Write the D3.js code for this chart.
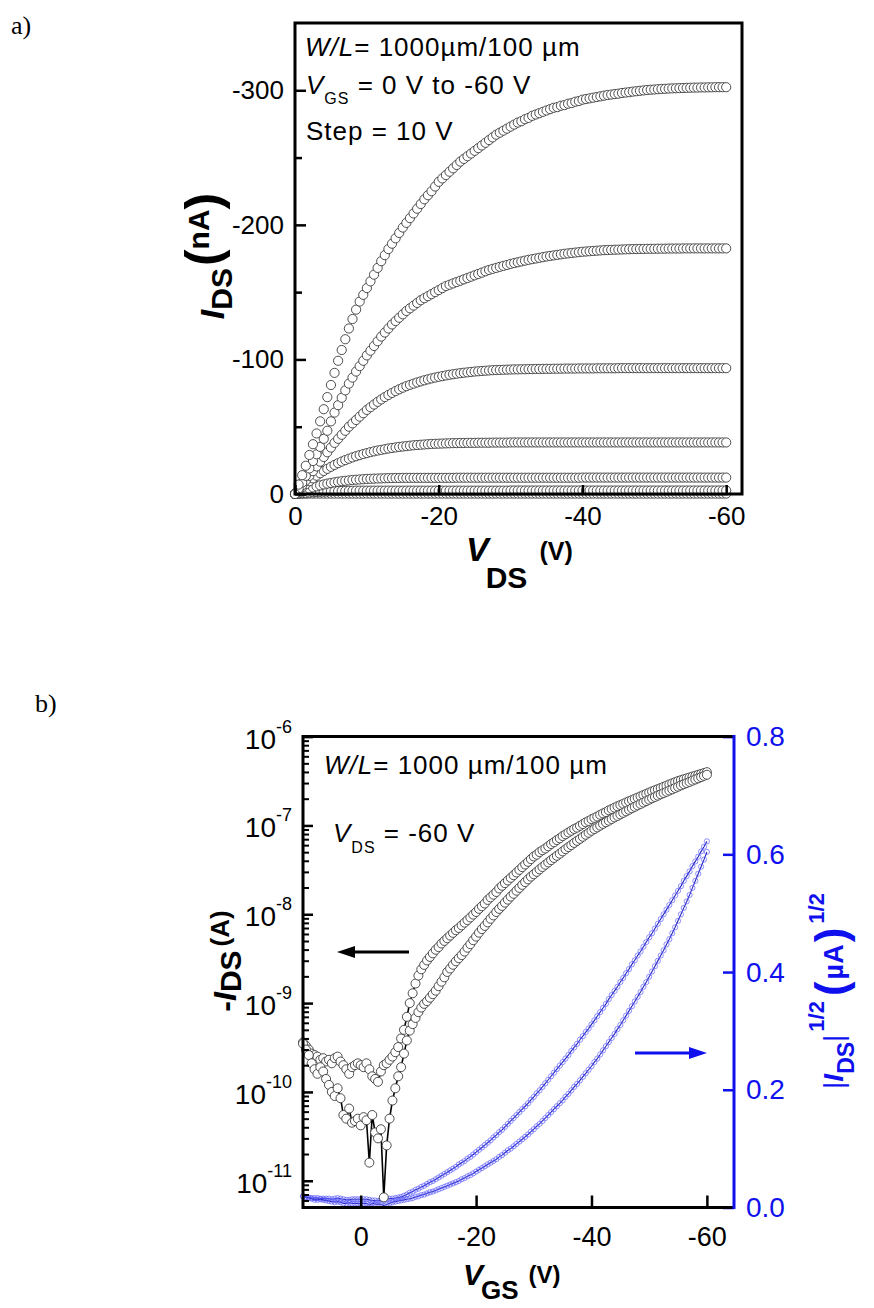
<!DOCTYPE html>
<html>
<head>
<meta charset="utf-8">
<script src="https://cdn.jsdelivr.net/npm/d3@7"></script>
<style>
 body { margin:0; background:#fff; }
 svg text { font-family:"Liberation Sans", Arial, sans-serif; }
</style>
</head>
<body>
<script>
// ---------- a) output curves, -I_DS magnitude in nA, V_DS 0 -> -60 V in 0.5 V steps ----------
var vdsSweep = d3.range(0, -60.25, -0.5);

var idsVgs0 = [
 0,0.1,0.2,0.2,0.3,0.3,0.3,0.3,0.3,0.3,
 0.3,0.3,0.3,0.3,0.3,0.3,0.3,0.3,0.3,0.3,
 0.3,0.3,0.3,0.3,0.3,0.3,0.3,0.3,0.3,0.3,
 0.3,0.3,0.3,0.3,0.3,0.3,0.3,0.3,0.3,0.3,
 0.3,0.3,0.3,0.3,0.3,0.3,0.3,0.3,0.3,0.3,
 0.3,0.3,0.3,0.3,0.3,0.3,0.3,0.3,0.3,0.3,
 0.3,0.3,0.3,0.3,0.3,0.3,0.3,0.3,0.3,0.3,
 0.3,0.3,0.3,0.3,0.3,0.3,0.3,0.3,0.3,0.3,
 0.3,0.3,0.3,0.3,0.3,0.3,0.3,0.3,0.3,0.3,
 0.3,0.3,0.3,0.3,0.3,0.3,0.3,0.3,0.3,0.3,
 0.3,0.3,0.3,0.3,0.3,0.3,0.3,0.3,0.3,0.3,
 0.3,0.3,0.3,0.3,0.3,0.3,0.3,0.3,0.3,0.3,
 0.3];
var idsVgs10 = [
 0,0.3,0.6,0.9,1.1,1.3,1.5,1.7,1.8,1.9,
 2,2.1,2.2,2.3,2.3,2.4,2.4,2.5,2.5,2.5,
 2.5,2.5,2.5,2.5,2.5,2.5,2.5,2.5,2.5,2.5,
 2.5,2.5,2.5,2.5,2.5,2.5,2.5,2.5,2.5,2.5,
 2.5,2.5,2.5,2.5,2.5,2.5,2.5,2.5,2.5,2.5,
 2.5,2.5,2.5,2.5,2.5,2.5,2.5,2.5,2.5,2.5,
 2.6,2.6,2.6,2.6,2.6,2.6,2.6,2.6,2.6,2.6,
 2.6,2.6,2.6,2.6,2.6,2.6,2.6,2.6,2.6,2.6,
 2.6,2.6,2.6,2.6,2.6,2.6,2.6,2.6,2.6,2.6,
 2.6,2.6,2.6,2.6,2.6,2.6,2.6,2.6,2.6,2.6,
 2.6,2.6,2.6,2.6,2.6,2.6,2.6,2.6,2.6,2.6,
 2.6,2.6,2.6,2.6,2.6,2.6,2.6,2.6,2.6,2.6,
 2.6];
var idsVgs20 = [
 0,1,2,3,4,4.9,5.7,6.4,7.1,7.7,
 8.2,8.7,9.1,9.5,9.8,10.1,10.4,10.6,10.8,11,
 11.2,11.3,11.4,11.5,11.6,11.7,11.8,11.8,11.9,11.9,
 12,12,12,12,12,12,12,12,12,12,
 12,12,12,12,12,12.1,12.1,12.1,12.1,12.1,
 12.1,12.1,12.1,12.1,12.1,12.1,12.1,12.1,12.1,12.1,
 12.1,12.1,12.1,12.1,12.1,12.1,12.1,12.1,12.1,12.1,
 12.1,12.1,12.1,12.1,12.1,12.1,12.1,12.1,12.1,12.1,
 12.2,12.2,12.2,12.2,12.2,12.2,12.2,12.2,12.2,12.2,
 12.2,12.2,12.2,12.2,12.2,12.2,12.2,12.2,12.2,12.2,
 12.2,12.2,12.2,12.2,12.2,12.2,12.2,12.2,12.2,12.2,
 12.2,12.2,12.2,12.2,12.2,12.2,12.2,12.2,12.2,12.2,
 12.2];
var idsVgs30 = [
 0,2.5,5,7.3,9.5,11.6,13.6,15.4,17.1,18.7,
 20.2,21.6,22.9,24.1,25.2,26.2,27.2,28.1,28.9,29.7,
 30.4,31.1,31.7,32.3,32.8,33.3,33.8,34.2,34.6,35,
 35.3,35.6,35.9,36.2,36.4,36.6,36.8,37,37.2,37.3,
 37.4,37.5,37.6,37.7,37.8,37.8,37.9,37.9,38,38,
 38,38.1,38.1,38.1,38.1,38.2,38.2,38.2,38.2,38.2,
 38.3,38.3,38.3,38.3,38.3,38.3,38.3,38.3,38.3,38.3,
 38.3,38.3,38.3,38.3,38.3,38.3,38.3,38.3,38.3,38.3,
 38.3,38.3,38.3,38.3,38.3,38.3,38.3,38.3,38.3,38.3,
 38.3,38.3,38.3,38.3,38.3,38.3,38.3,38.3,38.3,38.3,
 38.3,38.3,38.3,38.3,38.3,38.3,38.3,38.3,38.3,38.3,
 38.3,38.3,38.3,38.3,38.3,38.3,38.3,38.3,38.3,38.3,
 38.3];
var idsVgs40 = [
 0,3,6.5,10,13.5,17,20.5,24,27.5,31,
 34.5,38,41,44,47,50,52.5,55,57.5,60,
 62.5,64.5,66.5,68.5,70.3,72,73.6,75.1,76.5,77.8,
 79,80.1,81.1,82,82.9,83.7,84.5,85.2,85.9,86.5,
 87.1,87.6,88.1,88.6,89,89.4,89.8,90.1,90.4,90.7,
 91,91.2,91.4,91.6,91.8,92,92.1,92.2,92.3,92.4,
 92.5,92.6,92.6,92.7,92.7,92.8,92.8,92.9,92.9,93,
 93,93,93.1,93.1,93.1,93.2,93.2,93.2,93.2,93.3,
 93.3,93.3,93.3,93.3,93.4,93.4,93.4,93.4,93.4,93.4,
 93.5,93.5,93.5,93.5,93.5,93.5,93.5,93.5,93.5,93.5,
 93.5,93.5,93.5,93.5,93.5,93.5,93.5,93.5,93.5,93.5,
 93.5,93.5,93.5,93.5,93.5,93.5,93.5,93.5,93.5,93.5,
 93.5];
var idsVgs50 = [
 0,4,8.5,13.5,19,24.5,29.5,35,41,47,
 54,60.5,66,71.5,77,82,86.5,91,95,99,
 103,106.5,110,113.5,117,120,123,126,128.5,131,
 133.5,136,138,140,142,144,145.5,147,148.5,150,
 151.5,153,154.5,155.5,156.5,157.5,158.5,159.5,160.5,161.5,
 162.5,163.5,164.5,165.5,166.5,167.3,168,168.8,169.5,170.2,
 171,171.6,172.2,172.8,173.4,174,174.5,175,175.5,176,
 176.5,176.9,177.3,177.7,178.1,178.5,178.8,179.1,179.4,179.7,
 180,180.2,180.4,180.6,180.8,181,181.2,181.3,181.4,181.5,
 181.6,181.7,181.8,181.9,182,182,182.1,182.1,182.2,182.2,
 182.2,182.3,182.3,182.3,182.4,182.4,182.4,182.4,182.5,182.5,
 182.5,182.5,182.5,182.5,182.5,182.5,182.5,182.5,182.5,182.5,
 182.5];
var idsVgs60 = [
 0,7,14,21,29,37,45,54,63,72,
 81,90,99,107,115,123,130,137,143,148,
 153,158,163,168,173,177.5,182,186,190,194,
 198,201.5,205,208.5,212,215.5,219,222,225,228.5,
 232,234.5,237,239.5,242,244.5,247,249,251,253,
 255,257,259,261,263,265,267,268.5,270,271.5,
 273,274.5,276,277,278.5,279.5,281,282,283,284,
 285,286,287,287.5,288.5,289,290,290.5,291.5,292,
 293,293.5,294,294.5,295,295.5,296,296.5,296.8,297.2,
 297.5,298,298.3,298.6,299,299.3,299.6,299.9,300.2,300.4,
 300.6,300.8,301,301.1,301.3,301.4,301.5,301.6,301.7,301.8,
 301.9,302,302,302.1,302.1,302.2,302.2,302.3,302.3,302.3,
 302.3];

var topYTicks = [0, -100, -200, -300];
var topYMinor = [-50, -150, -250];
var topXTicks = [0, -20, -40, -60];

// ---------- b) transfer curve, V_GS +10 -> -60 V in 0.5 V steps ----------
var vgsSweep = d3.range(10, -60.25, -0.5);

// -I_DS in nA, upper branch
var idsUpper = [
 0.36,0.33,0.30,0.27,0.26,0.25,0.23,0.24,0.22,0.23,
 0.21,0.24,0.25,0.22,0.20,0.18,0.16,0.19,0.20,0.21,
 0.20,0.19,0.21,0.18,0.15,0.14,0.13,0.17,0.20,0.21,
 0.23,0.25,0.28,0.32,0.40,0.50,0.70,1.0,1.29,1.66,
 2.04,2.40,2.69,3.02,3.31,3.63,3.98,4.27,4.68,5.01,
 5.37,5.75,6.17,6.61,7.0,7.5,8.04,8.6,9.2,9.9,
 10.6,11.5,12.3,13.2,14.5,15.5,16.6,17.8,19.5,20.9,
 22.4,24.0,25.7,27.5,29.5,31.6,33.9,36.3,38.9,41.7,
 44.7,46.8,50.1,52.5,55.0,58.2,61.7,64.6,68.4,71.6,
 75.9,79.4,83.2,87.1,91.2,94.4,98.9,103.5,108.4,112.2,
 117.5,121.6,125.9,131.8,136.5,141.3,147.9,153.1,158.5,164.1,
 169.8,175.4,181.1,187.1,193.2,199.5,206.1,212.8,219.8,227,
 234.4,241.5,248.9,256.4,264.2,272.3,280.5,289.1,297.8,306.9,
 316.2,323.6,331.1,338.8,346.7,354.8,363.1,371.5,380.2,389,
 398];
// -I_DS in nA, lower branch
var idsLower = [
 0.35,0.30,0.26,0.21,0.18,0.16,0.19,0.17,0.14,0.12,
 0.10,0.09,0.11,0.085,0.055,0.05,0.065,0.045,0.047,0.05,
 0.042,0.052,0.048,0.016,0.055,0.035,0.03,0.038,0.0065,0.025,
 0.05,0.08,0.11,0.15,0.19,0.27,0.38,0.49,0.58,0.68,
 0.79,0.89,0.98,1.05,1.15,1.26,1.38,1.55,1.74,1.95,
 2.24,2.45,2.7,2.95,3.2,3.47,3.8,4.2,4.6,5.1,
 5.6,6.2,6.8,7.4,8.1,8.9,9.7,10.6,11.5,12.4,
 13.5,14.6,15.8,17.0,18.4,19.8,21.4,23.0,24.7,26.5,
 28.2,30.0,32.0,34.0,36.1,38.3,40.6,43.0,45.5,48.0,
 51,54,57,60,63.5,67,70.5,74.5,78.5,82.5,
 87,91,95,99.5,104,108.5,113,118,123,128,
 133,138.5,144,150,156,162,168,174.5,181,188,
 195,202,209,216.5,224,231.5,239,247,255,264,
 273,282,291,300,309,319,329,339,350,361,
 372];
// |I_DS|^1/2 in uA^1/2
var sqrtUpper = [
 0.019,0.018,0.017,0.016,0.016,0.016,0.015,0.015,0.015,0.015,
 0.014,0.015,0.016,0.015,0.014,0.013,0.013,0.014,0.014,0.014,
 0.014,0.014,0.014,0.013,0.012,0.012,0.011,0.013,0.014,0.014,
 0.015,0.015,0.016,0.017,0.018,0.020,0.022,0.025,0.027,0.030,
 0.032,0.035,0.037,0.040,0.043,0.045,0.048,0.051,0.054,0.057,
 0.060,0.063,0.066,0.069,0.073,0.076,0.079,0.083,0.086,0.090,
 0.094,0.098,0.102,0.106,0.110,0.114,0.119,0.123,0.128,0.132,
 0.137,0.142,0.147,0.152,0.157,0.162,0.167,0.172,0.177,0.183,
 0.188,0.194,0.199,0.205,0.211,0.217,0.223,0.229,0.235,0.241,
 0.247,0.253,0.259,0.266,0.272,0.278,0.285,0.291,0.298,0.304,
 0.311,0.318,0.325,0.332,0.339,0.346,0.354,0.361,0.368,0.375,
 0.383,0.390,0.398,0.405,0.413,0.420,0.428,0.435,0.443,0.451,
 0.459,0.466,0.474,0.482,0.490,0.498,0.506,0.514,0.522,0.530,
 0.538,0.546,0.555,0.563,0.571,0.580,0.588,0.596,0.605,0.613,
 0.622];
var sqrtLower = [
 0.019,0.017,0.016,0.015,0.013,0.013,0.014,0.013,0.012,0.011,
 0.010,0.009,0.010,0.009,0.007,0.007,0.008,0.007,0.007,0.007,
 0.006,0.007,0.007,0.004,0.007,0.006,0.005,0.006,0.003,0.005,
 0.007,0.009,0.010,0.011,0.012,0.013,0.014,0.015,0.016,0.018,
 0.019,0.021,0.022,0.024,0.026,0.027,0.029,0.031,0.033,0.035,
 0.037,0.039,0.041,0.043,0.045,0.048,0.050,0.053,0.055,0.058,
 0.061,0.064,0.067,0.070,0.073,0.076,0.079,0.082,0.086,0.089,
 0.093,0.097,0.100,0.104,0.108,0.112,0.116,0.120,0.124,0.129,
 0.133,0.138,0.142,0.147,0.152,0.157,0.162,0.167,0.172,0.177,
 0.182,0.188,0.193,0.199,0.205,0.210,0.216,0.222,0.228,0.234,
 0.240,0.247,0.253,0.260,0.267,0.274,0.281,0.288,0.295,0.303,
 0.310,0.318,0.326,0.334,0.342,0.350,0.358,0.366,0.375,0.383,
 0.392,0.401,0.410,0.419,0.428,0.437,0.447,0.456,0.466,0.476,
 0.487,0.498,0.509,0.520,0.531,0.543,0.555,0.567,0.579,0.591,
 0.604];

var botXTicks = [0, -20, -40, -60];
var logMajor = [0.01, 0.1, 1, 10, 100, 1000];   // nA = 1e-11 ... 1e-6 A
var rightTicks = [0, 0.2, 0.4, 0.6, 0.8];

var blue = "#1010ee";

var svg = d3.select("body").append("svg")
    .attr("width", 874)
    .attr("height", 1308);

// ================= a) =================
svg.append("text").attr("x", 11).attr("y", 34)
   .style("font-family", "'Liberation Serif', 'Times New Roman', serif")
   .attr("font-size", 26).text("a)");

var xA = d3.scaleLinear().domain([0, -62.2]).range([295, 742]);
var yA = d3.scaleLinear().domain([0, -350]).range([494, 23]);

var outputCurves = [idsVgs0, idsVgs10, idsVgs20, idsVgs30, idsVgs40, idsVgs50, idsVgs60];
outputCurves.forEach(function(arr) {
  var pts = arr.map(function(v, i) { return { x: vdsSweep[i], y: -v }; });
  svg.append("g").selectAll("circle").data(pts).enter().append("circle")
     .attr("cx", function(d) { return xA(d.x); })
     .attr("cy", function(d) { return yA(d.y); })
     .attr("r", 4.6)
     .attr("fill", "#fff")
     .attr("stroke", "#3a3a3a")
     .attr("stroke-width", 0.9);
});

function styleAxis(g, size, color) {
  g.select(".domain").remove();
  g.selectAll("line").attr("stroke", color).attr("stroke-width", 2.5);
  g.selectAll("text").attr("font-size", size).attr("fill", color)
   .style("font-family", "'Liberation Sans', Arial, sans-serif");
}

var axA_y = svg.append("g").attr("transform", "translate(295,0)")
  .call(d3.axisLeft(yA).tickValues(topYTicks).tickSize(-11).tickPadding(11)
        .tickFormat(function(d) { return d === 0 ? "0" : d3.format("d")(d).replace("\u2212", "-"); }));
styleAxis(axA_y, 26, "#000");
var axA_ym = svg.append("g").attr("transform", "translate(295,0)")
  .call(d3.axisLeft(yA).tickValues(topYMinor).tickSize(-7).tickFormat(""));
styleAxis(axA_ym, 26, "#000");
var axA_x = svg.append("g").attr("transform", "translate(0,494)")
  .call(d3.axisBottom(xA).tickValues(topXTicks).tickSize(-9).tickPadding(13)
        .tickFormat(function(d) { return d === 0 ? "0" : String(d); }));
styleAxis(axA_x, 26, "#000");

svg.append("rect").attr("x", 295).attr("y", 23).attr("width", 742 - 295).attr("height", 494 - 23)
   .attr("fill", "none").attr("stroke", "#000").attr("stroke-width", 3);

// annotations
var t1 = svg.append("text").attr("x", 305).attr("y", 56).attr("font-size", 26).attr("letter-spacing", 1);
t1.append("tspan").attr("font-style", "italic").text("W/L");
t1.append("tspan").text("= 1000\u00b5m/100 \u00b5m");
var t2 = svg.append("text").attr("x", 306).attr("y", 94).attr("font-size", 26).attr("letter-spacing", 1);
t2.append("tspan").attr("font-style", "italic").text("V");
t2.append("tspan").attr("font-size", 16).attr("dy", 10).text("GS");
t2.append("tspan").attr("dy", -10).text(" = 0 V to -60 V");
svg.append("text").attr("x", 306).attr("y", 140).attr("font-size", 26).attr("letter-spacing", 1)
   .text("Step = 10 V");

// axis titles
var ytA = svg.append("text").attr("transform", "translate(224,256) rotate(-90)")
   .attr("text-anchor", "middle").attr("font-weight", "bold");
ytA.append("tspan").attr("font-size", 34).attr("font-style", "italic").text("I");
ytA.append("tspan").attr("font-size", 30).attr("dy", 8).text("DS");
ytA.append("tspan").attr("font-size", 50).attr("dy", -12).attr("dx", 2).text("(");
ytA.append("tspan").attr("font-size", 30).attr("dy", -11).text("nA");
ytA.append("tspan").attr("font-size", 50).attr("dy", 11).text(")");

var xtA = svg.append("text").attr("x", 466).attr("y", 561).attr("font-weight", "bold");
xtA.append("tspan").attr("font-size", 34).attr("font-style", "italic").text("V");
xtA.append("tspan").attr("font-size", 30).attr("dy", 27).attr("dx", -3).text("DS");
xtA.append("tspan").attr("font-size", 25).attr("dy", -28).attr("dx", 12).text("(V)");

// ================= b) =================
svg.append("text").attr("x", 35).attr("y", 712)
   .style("font-family", "'Liberation Serif', 'Times New Roman', serif")
   .attr("font-size", 26).text("b)");

var xB = d3.scaleLinear().domain([10, -64.7]).range([303, 734]);
var yB = d3.scaleLog().domain([0.005, 1000]).range([1207.5, 736.6]);
var yB2 = d3.scaleLinear().domain([0, 0.8]).range([1207.5, 736.6]);

// sqrt curves (blue)
var lineB2 = d3.line().x(function(d) { return xB(d.x); }).y(function(d) { return yB2(d.y); });
[sqrtUpper, sqrtLower].forEach(function(arr) {
  var pts = arr.map(function(v, i) { return { x: vgsSweep[i], y: v }; });
  svg.append("path").attr("d", lineB2(pts)).attr("fill", "none")
     .attr("stroke", "#2424b8").attr("stroke-width", 1.1);
  svg.append("g").selectAll("circle").data(pts).enter().append("circle")
     .attr("cx", function(d) { return xB(d.x); })
     .attr("cy", function(d) { return yB2(d.y); })
     .attr("r", 2.6).attr("fill", "none")
     .attr("stroke", "#5a5aff").attr("stroke-opacity", 0.85).attr("stroke-width", 0.8);
});

// log current curves (black)
var lineB = d3.line().x(function(d) { return xB(d.x); }).y(function(d) { return yB(d.y); });
[idsUpper, idsLower].forEach(function(arr) {
  var pts = arr.map(function(v, i) { return { x: vgsSweep[i], y: v }; });
  svg.append("path").attr("d", lineB(pts)).attr("fill", "none")
     .attr("stroke", "#000").attr("stroke-width", 1.6);
  svg.append("g").selectAll("circle").data(pts).enter().append("circle")
     .attr("cx", function(d) { return xB(d.x); })
     .attr("cy", function(d) { return yB(d.y); })
     .attr("r", 4.5).attr("fill", "#fff")
     .attr("stroke", "#3a3a3a").attr("stroke-width", 0.9);
});

// axes
var logMinor = yB.ticks().filter(function(v) { return logMajor.indexOf(v) < 0; });
var axB_y = svg.append("g").attr("transform", "translate(303,0)")
  .call(d3.axisLeft(yB).tickValues(logMajor).tickSize(-10).tickFormat(""));
styleAxis(axB_y, 26, "#000");
var axB_ym = svg.append("g").attr("transform", "translate(303,0)")
  .call(d3.axisLeft(yB).tickValues(logMinor).tickSize(-6).tickFormat(""));
styleAxis(axB_ym, 26, "#000");
axB_ym.selectAll("line").attr("stroke-width", 2);

logMajor.forEach(function(v) {
  var t = svg.append("text").attr("x", 292).attr("y", yB(v) + 12)
     .attr("text-anchor", "end").attr("font-size", 28);
  t.append("tspan").text("10");
  t.append("tspan").attr("font-size", 18).attr("dy", -16)
   .text(String(Math.round(Math.log10(v)) - 9));
});

var axB_x = svg.append("g").attr("transform", "translate(0,1207.5)")
  .call(d3.axisBottom(xB).tickValues(botXTicks).tickSize(-12).tickPadding(19)
        .tickFormat(function(d) { return d === 0 ? "0" : String(d); }));
styleAxis(axB_x, 27, "#000");

var axB_r = svg.append("g").attr("transform", "translate(734,0)")
  .call(d3.axisRight(yB2).tickValues(rightTicks).tickSize(-11).tickPadding(12)
        .tickFormat(d3.format(".1f")));
styleAxis(axB_r, 28, blue);

// frame
svg.append("line").attr("x1", 303).attr("x2", 734).attr("y1", 736.6).attr("y2", 736.6)
   .attr("stroke", "#000").attr("stroke-width", 3);
svg.append("line").attr("x1", 303).attr("x2", 734).attr("y1", 1207.5).attr("y2", 1207.5)
   .attr("stroke", "#000").attr("stroke-width", 3);
svg.append("line").attr("x1", 303).attr("x2", 303).attr("y1", 735.1).attr("y2", 1209)
   .attr("stroke", "#000").attr("stroke-width", 3);
svg.append("line").attr("x1", 734).attr("x2", 734).attr("y1", 735.1).attr("y2", 1209)
   .attr("stroke", blue).attr("stroke-width", 3);

// arrows
svg.append("line").attr("x1", 352).attr("x2", 409).attr("y1", 952).attr("y2", 952)
   .attr("stroke", "#000").attr("stroke-width", 3);
svg.append("path").attr("d", "M337,952 L355,946 L355,958 Z").attr("fill", "#000");
svg.append("line").attr("x1", 635).attr("x2", 691).attr("y1", 1053).attr("y2", 1053)
   .attr("stroke", blue).attr("stroke-width", 3);
svg.append("path").attr("d", "M707,1053 L689,1047 L689,1059 Z").attr("fill", blue);

// annotations
var t4 = svg.append("text").attr("x", 324).attr("y", 774).attr("font-size", 26).attr("letter-spacing", 1);
t4.append("tspan").attr("font-style", "italic").text("W/L");
t4.append("tspan").text("= 1000 \u00b5m/100 \u00b5m");
var t5 = svg.append("text").attr("x", 333).attr("y", 842).attr("font-size", 26).attr("letter-spacing", 1);
t5.append("tspan").attr("font-style", "italic").text("V");
t5.append("tspan").attr("font-size", 16).attr("dy", 11).text("DS");
t5.append("tspan").attr("dy", -11).text(" = -60 V");

// axis titles
var ytB = svg.append("text").attr("transform", "translate(236,961) rotate(-90)")
   .attr("text-anchor", "middle").attr("font-weight", "bold");
ytB.append("tspan").attr("font-size", 32).text("-");
ytB.append("tspan").attr("font-size", 32).attr("font-style", "italic").text("I");
ytB.append("tspan").attr("font-size", 30).attr("dy", 5).text("DS");
ytB.append("tspan").attr("font-size", 26).attr("dy", -12).attr("dx", 4).text("(A)");

var ytB2 = svg.append("text").attr("transform", "translate(843,991) rotate(-90)")
   .attr("text-anchor", "middle").attr("font-weight", "bold").attr("fill", blue);
ytB2.append("tspan").attr("font-size", 28).attr("font-weight", "normal").text("|");
ytB2.append("tspan").attr("font-size", 28).attr("font-style", "italic").text("I");
ytB2.append("tspan").attr("font-size", 23).attr("dy", 11).text("DS");
ytB2.append("tspan").attr("font-size", 28).attr("font-weight", "normal").attr("dy", -11).text("|");
ytB2.append("tspan").attr("font-size", 22).attr("dy", -19).attr("dx", 3).text("1/2");
ytB2.append("tspan").attr("font-size", 44).attr("dy", 22).attr("dx", 5).text("(");
ytB2.append("tspan").attr("font-size", 27).attr("dy", -3).attr("dx", 2).text("\u00b5A");
ytB2.append("tspan").attr("font-size", 44).attr("dy", 3).attr("dx", 2).text(")");
ytB2.append("tspan").attr("font-size", 22).attr("dy", -22).attr("dx", 4).text("1/2");

var xtB = svg.append("text").attr("x", 463).attr("y", 1285).attr("font-weight", "bold");
xtB.append("tspan").attr("font-size", 30).attr("font-style", "italic").text("V");
xtB.append("tspan").attr("font-size", 26).attr("dy", 14).attr("dx", -2).text("GS");
xtB.append("tspan").attr("font-size", 24).attr("dy", -16).attr("dx", 10).text("(V)");
</script>
</body>
</html>
